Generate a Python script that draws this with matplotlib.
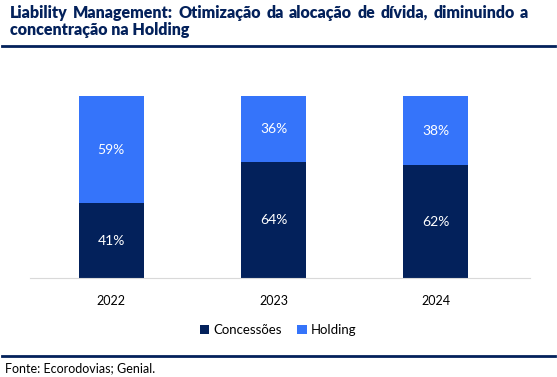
import matplotlib
matplotlib.use("Agg")
import matplotlib.pyplot as plt
import numpy as np

plt.rcParams['font.family'] = ['Lato', 'DejaVu Sans']

anos = ['2022', '2023', '2024']
concessoes = [41, 64, 62]
holding = [59, 36, 38]
navy = '#03215B'
azul = '#3574FA'

fig = plt.figure(figsize=(5.57, 3.77), dpi=100)
W, H = 557, 377

# title, first line justified by hand
linha1 = 'Liability Management: Otimização da alocação de dívida, diminuindo a'.split()
fig.canvas.draw()
r = fig.canvas.get_renderer()
tmp = [fig.text(0, 0, w, fontsize=11.5, fontweight='heavy', color=navy) for w in linha1]
larg = [t.get_window_extent(r).width for t in tmp]
x0, x1 = 10, 528
gap = (x1 - x0 - sum(larg)) / (len(linha1) - 1)
x = x0
for t, w in zip(tmp, larg):
    t.set_position((x / W, 1 - 18 / H))
    x += w + gap
fig.text(x0 / W, 1 - 35 / H, 'concentração na Holding', fontsize=11.5,
         fontweight='heavy', color=navy)

fig.add_artist(plt.Line2D([2 / W, 555 / W], [1 - 46 / H] * 2, color=navy, lw=2))
fig.add_artist(plt.Line2D([2 / W, 555 / W], [1 - 356 / H] * 2, color=navy, lw=2))
fig.text(5 / W, 1 - 372 / H, 'Fonte: Ecorodovias; Genial.', fontsize=9, color='black')

ax = fig.add_axes([30 / W, 1 - 278 / H, 500 / W, 182 / H])
pos = np.arange(len(anos))
b1 = ax.bar(pos, concessoes, 0.4, color=navy, label='Concessões')
b2 = ax.bar(pos, holding, 0.4, bottom=concessoes, color=azul, label='Holding')
for i in pos:
    ax.text(i, concessoes[i] / 2, f'{concessoes[i]}%', ha='center', va='center',
            color='white', fontsize=10)
    ax.text(i, concessoes[i] + holding[i] / 2, f'{holding[i]}%', ha='center',
            va='center', color='white', fontsize=10)

ax.set_xlim(-0.5, 2.58)
ax.set_ylim(0, 100)
ax.set_xticks(pos)
ax.set_xticklabels(anos, fontsize=9)
ax.set_yticks([])
ax.tick_params(axis='x', length=0, pad=12)
for s in ['top', 'right', 'left']:
    ax.spines[s].set_visible(False)
ax.spines['bottom'].set_color('#D9D9D9')

fig.legend(handles=[b1, b2], loc='center', bbox_to_anchor=(278 / W, 1 - 330 / H),
           ncol=2, frameon=False, fontsize=9.5, handlelength=0.7, handleheight=0.7,
           handletextpad=0.3, columnspacing=1.2)

fig.savefig('out.png', dpi=100)
